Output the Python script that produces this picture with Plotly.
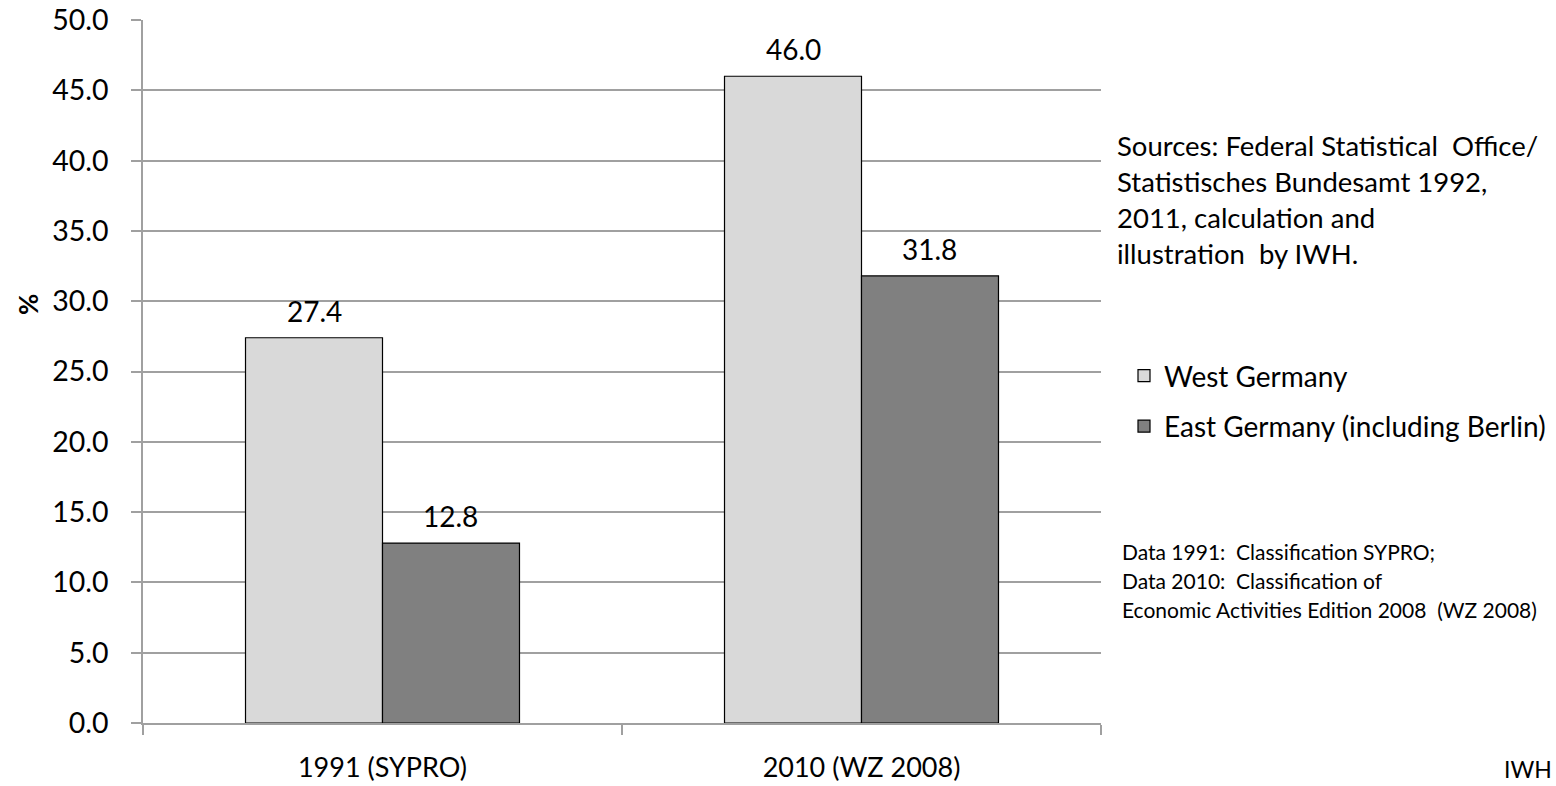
import plotly.graph_objects as go

categories = ["1991 (SYPRO)", "2010 (WZ 2008)"]
west = [27.4, 46.0]
east = [12.8, 31.8]
series_names = ["West Germany", "East Germany (including Berlin)"]
y_ticks = [0, 5, 10, 15, 20, 25, 30, 35, 40, 45, 50]
sources_lines = [
    "Sources: Federal Statistical  Office/",
    "Statistisches Bundesamt 1992,",
    "2011, calculation and",
    "illustration  by IWH.",
]
notes_lines = [
    "Data 1991:  Classification SYPRO;",
    "Data 2010:  Classification of",
    "Economic Activities Edition 2008  (WZ 2008)",
]

FONT = "Lato"
L, R, T, B = 143, 455, 20, 63
W, H = 1556, 786
pw = W - L - R
ph = H - T - B

def px_x(x):
    return (x - L) / pw

def px_y(y):
    return 1 - (y - T) / ph

fig = go.Figure()
fig.add_trace(go.Bar(
    x=categories, y=west, name=series_names[0],
    marker=dict(color="#d9d9d9", line=dict(color="#000000", width=1.2)),
    legendgroup="w",
))
fig.add_trace(go.Bar(
    x=categories, y=east, name=series_names[1],
    marker=dict(color="#808080", line=dict(color="#000000", width=1.2)),
    legendgroup="e",
))

annotations = []
# data labels
for vals, shift in ((west, -68), (east, 68)):
    for c, v in zip(categories, vals):
        annotations.append(dict(
            x=c, y=v, xref="x", yref="y", text=f"{v:.1f}", showarrow=False,
            xshift=shift, yshift=8, yanchor="bottom",
            font=dict(family=FONT, size=28, color="#000000"),
        ))

src_y = [145, 182, 217, 253]
for t, yy in zip(sources_lines, src_y):
    annotations.append(dict(
        x=px_x(1115), y=px_y(yy), xref="paper", yref="paper", text=t,
        showarrow=False, xanchor="left", yanchor="middle", align="left",
        font=dict(family=FONT, size=27.5, color="#000000"),
    ))
note_y = [551, 580, 609]
for t, yy in zip(notes_lines, note_y):
    annotations.append(dict(
        x=px_x(1120), y=px_y(yy), xref="paper", yref="paper", text=t,
        showarrow=False, xanchor="left", yanchor="middle", align="left",
        font=dict(family=FONT, size=21, color="#000000"),
    ))
annotations.append(dict(
    x=px_x(1502), y=px_y(753), xref="paper", yref="paper", text="IWH",
    showarrow=False, xanchor="left", yanchor="top",
    font=dict(family=FONT, size=23, color="#000000"),
))
annotations.append(dict(
    x=px_x(28), y=px_y(305), xref="paper", yref="paper", text="<b>%</b>",
    showarrow=False, xanchor="center", yanchor="middle", textangle=-90,
    font=dict(family=FONT, size=26, color="#000000"),
))

fig.update_layout(
    width=W, height=H,
    margin=dict(l=L, r=R, t=T, b=B, autoexpand=False),
    plot_bgcolor="#ffffff", paper_bgcolor="#ffffff",
    barmode="group", bargap=0.428, bargroupgap=0,
    font=dict(family=FONT, color="#000000"),
    showlegend=True,
    legend=dict(
        x=px_x(1124), y=px_y(351), xanchor="left", yanchor="top",
        font=dict(family=FONT, size=28, color="#000000"),
        traceorder="grouped", tracegroupgap=11,
        bgcolor="rgba(0,0,0,0)", itemwidth=30,
    ),
    annotations=annotations,
)
fig.update_xaxes(
    type="category", tickson="boundaries", ticks="outside", ticklen=10,
    tickcolor="#a0a0a0", tickwidth=1.5,
    showline=True, linecolor="#a0a0a0", linewidth=1.5,
    showgrid=False, tickfont=dict(family=FONT, size=27, color="#000000"),
    ticklabelstandoff=20,
)
fig.update_yaxes(
    range=[0, 50], tickvals=y_ticks, ticktext=[f"{v:.1f}" for v in y_ticks],
    ticks="outside", ticklen=10, tickcolor="#a0a0a0", tickwidth=1.5,
    showline=True, linecolor="#a0a0a0", linewidth=1.5,
    showgrid=True, gridcolor="#a0a0a0", gridwidth=1.5,
    zeroline=False,
    tickfont=dict(family=FONT, size=28.5, color="#000000"),
    ticklabelstandoff=17,
)

fig.write_html("out.html")
